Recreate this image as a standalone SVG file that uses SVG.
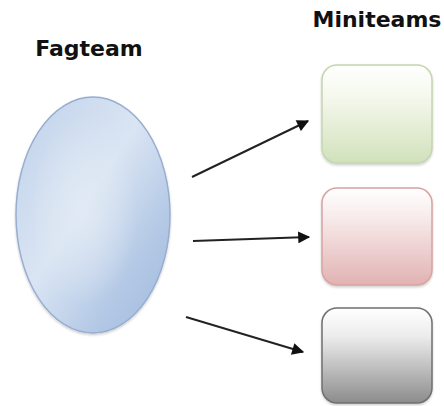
<svg xmlns="http://www.w3.org/2000/svg" width="444" height="406" viewBox="0 0 444 406">
  <style>
    .title { font-family: "DejaVu Sans", Verdana, sans-serif; font-weight: bold; font-size: 22px; fill: #111; }
    .edge { stroke: #222; stroke-width: 2; fill: none; marker-end: url(#arrow); }
  </style>
  <defs>
    <marker id="arrow" viewBox="0 0 10 10" refX="9" refY="5" markerWidth="6.5" markerHeight="6" markerUnits="strokeWidth" orient="auto">
      <path d="M0,0 L10,5 L0,10 z" fill="#111"/>
    </marker>
    <linearGradient id="ovalFill" x1="0" y1="0" x2="1" y2="1">
      <stop offset="0" stop-color="#bfd1ea"/>
      <stop offset="0.45" stop-color="#dae5f3"/>
      <stop offset="0.75" stop-color="#b3c8e5"/>
      <stop offset="1" stop-color="#9fb9dd"/>
    </linearGradient>
    <radialGradient id="ovalSheen" cx="0.45" cy="0.5" r="0.5">
      <stop offset="0" stop-color="#e2eaf5" stop-opacity="0.85"/>
      <stop offset="1" stop-color="#e2eaf5" stop-opacity="0"/>
    </radialGradient>
    <linearGradient id="greenFill" x1="0" y1="0" x2="0" y2="1">
      <stop offset="0" stop-color="#ffffff"/>
      <stop offset="0.3" stop-color="#f6f9ef"/>
      <stop offset="1" stop-color="#d1e1bb"/>
    </linearGradient>
    <linearGradient id="redFill" x1="0" y1="0" x2="0" y2="1">
      <stop offset="0" stop-color="#ffffff"/>
      <stop offset="0.3" stop-color="#f8ebeb"/>
      <stop offset="1" stop-color="#e2b2b2"/>
    </linearGradient>
    <linearGradient id="grayFill" x1="0" y1="0" x2="0" y2="1">
      <stop offset="0" stop-color="#ffffff"/>
      <stop offset="0.3" stop-color="#ececec"/>
      <stop offset="1" stop-color="#8c8c8c"/>
    </linearGradient>
    <filter id="soft" x="-10%" y="-10%" width="120%" height="120%">
      <feDropShadow dx="0" dy="1.5" stdDeviation="1.2" flood-color="#000" flood-opacity="0.2"/>
    </filter>
  </defs>

  <g id="fagteam">
    <ellipse cx="93" cy="215" rx="77" ry="118" fill="url(#ovalFill)" stroke="#97aed0" stroke-width="1.5" filter="url(#soft)"/>
    <ellipse cx="88" cy="210" rx="55" ry="95" fill="url(#ovalSheen)"/>
    <text class="title" x="89" y="56" text-anchor="middle">Fagteam</text>
  </g>

  <g id="miniteams-label">
    <text class="title" x="377" y="27" text-anchor="middle">Miniteams</text>
  </g>

  <g id="miniteam-green">
    <rect x="322" y="65" width="110" height="98" rx="15" fill="url(#greenFill)" stroke="#c4d6ae" stroke-width="1.5" filter="url(#soft)"/>
  </g>
  <g id="miniteam-red">
    <rect x="322" y="188" width="110" height="97" rx="15" fill="url(#redFill)" stroke="#d8a3a3" stroke-width="1.5" filter="url(#soft)"/>
  </g>
  <g id="miniteam-gray">
    <rect x="322" y="308" width="110" height="95" rx="15" fill="url(#grayFill)" stroke="#6f6f6f" stroke-width="1.5" filter="url(#soft)"/>
  </g>

  <g id="connectors">
    <line class="edge" x1="192" y1="177" x2="308" y2="121"/>
    <line class="edge" x1="193" y1="241" x2="309" y2="237"/>
    <line class="edge" x1="186" y1="317" x2="303" y2="352"/>
  </g>
</svg>
